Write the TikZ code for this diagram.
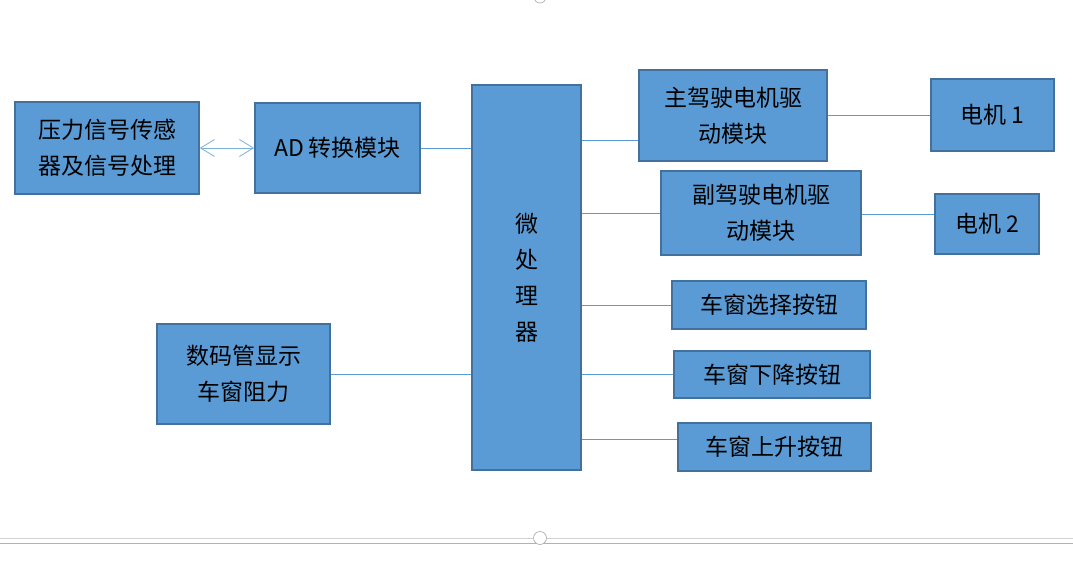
\documentclass[tikz,border=0pt]{standalone}
\usepackage{fontspec}
\usetikzlibrary{arrows.meta}
\newfontfamily\cjk{Noto Sans CJK SC}
\definecolor{boxfill}{HTML}{5B9BD5}
\definecolor{boxline}{HTML}{41719C}
\definecolor{linkcol}{HTML}{5B9BD5}
\tikzset{
	block/.style={draw=boxline, fill=boxfill, line width=1.6pt, inner sep=0pt,
		align=center, font=\cjk\fontsize{23}{36}\selectfont},
	link/.style={draw=linkcol, line width=0.8pt},
	dblarrow/.style={draw=linkcol!80, line width=0.8pt,
		{Straight Barb[length=14pt,width=17pt]}-{Straight Barb[length=14pt,width=17pt]}}
}

\begin{document}
\begin{tikzpicture}[x=1pt,y=-1pt]
			\useasboundingbox (0,0) rectangle (1073,572);
			% left side blocks
			\node[block, minimum width=184pt, minimum height=92pt] (sensor) at (107,148) {压力信号传感\\器及信号处理};
			\node[block, minimum width=165pt, minimum height=90pt] (adconv) at (337.5,148) {AD 转换模块};
			\node[block, minimum width=173pt, minimum height=100pt] (display) at (243.5,374) {数码管显示\\车窗阻力};
			% controller
			\node[block, minimum width=109pt, minimum height=385pt] (micro) at (526.5,277.5) {微\\处\\理\\器};
			% drive modules and motors
			\node[block, minimum width=188pt, minimum height=91pt] (maindrv) at (733,115.5) {主驾驶电机驱\\动模块};
			\node[block, minimum width=200pt, minimum height=84pt] (subdrv) at (761,213) {副驾驶电机驱\\动模块};
			\node[block, minimum width=123pt, minimum height=72pt] (motorA) at (992.5,115) {电机 1};
			\node[block, minimum width=104pt, minimum height=60pt] (motorB) at (987,224) {电机 2};
			% buttons
			\node[block, minimum width=194pt, minimum height=48pt] (selbtn) at (769,305) {车窗选择按钮};
			\node[block, minimum width=196pt, minimum height=47pt] (downbtn) at (772,374.5) {车窗下降按钮};
			\node[block, minimum width=193pt, minimum height=48pt] (upbtn) at (774.5,447) {车窗上升按钮};
			% connectors
			\draw[dblarrow] (sensor.east) -- (adconv.west);
			\draw[link] (adconv.east) -- (micro.west |- adconv.east);
			\draw[link] (display.east) -- (micro.west |- display.east);
			\draw[link] (micro.east |- 0,140) -- (maindrv.west |- 0,140);
			\draw[link] (micro.east |- subdrv.west) -- (subdrv.west);
			\draw[link] (maindrv.east |- motorA.west) -- (motorA.west);
			\draw[link] (subdrv.east |- 0,214) -- (motorB.west |- 0,214);
			\draw[link] (micro.east |- selbtn.west) -- (selbtn.west);
			\draw[link] (micro.east |- downbtn.west) -- (downbtn.west);
			\draw[link] (micro.east |- 0,439) -- (upbtn.west |- 0,439);
			% canvas frame
			\draw[gray!35, line width=0.8pt] (0,538) -- (533.5,538) (546.5,538) -- (1073,538);
			\draw[gray!60, line width=0.8pt] (0,543) -- (1073,543);
			\draw[gray!70, line width=0.6pt, fill=white] (540,538) circle (6.5);
			\draw[gray!70, line width=0.6pt] (540,-3) circle (6);
		\end{tikzpicture}
\end{document}
